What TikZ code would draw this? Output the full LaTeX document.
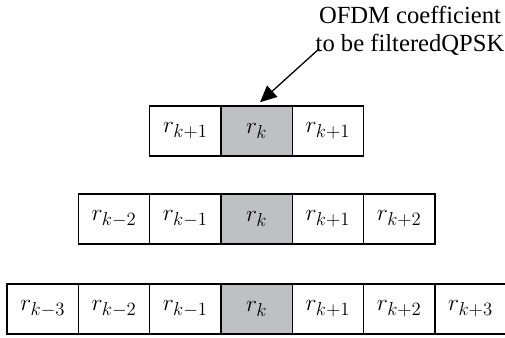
\documentclass[tikz,border=0pt]{standalone}
\usepackage{fix-cm}
\usepackage{amsmath}
\usepackage{fontspec}
\setmainfont{Liberation Serif}
\usetikzlibrary{arrows.meta}
\DeclareMathSizes{20}{20}{16}{12}
\definecolor{cellgray}{RGB}{191,192,196}
\tikzset{
  cell/.style={shape=rectangle,draw=black,line width=1.1pt,minimum width=2.14cm,minimum height=1.5cm,inner sep=0pt,font=\fontsize{20}{24}\selectfont},
  midcell/.style={cell,fill=cellgray},
}
\begin{document}
\begin{tikzpicture}[x=0.03cm,y=-0.03cm]
			\useasboundingbox (0,0) rectangle (505,338);
			% row with three cells
			\node[cell] (a1) at (185.3,131) {$r_{k+1}$};
			\node[midcell] (a2) at (256.6,131) {$r_k$};
			\node[cell] (a3) at (327.9,131) {$r_{k+1}$};
			% row with five cells
			\node[cell] (b1) at (114,219) {$r_{k-2}$};
			\node[cell] (b2) at (185.3,219) {$r_{k-1}$};
			\node[midcell] (b3) at (256.6,219) {$r_k$};
			\node[cell] (b4) at (327.9,219) {$r_{k+1}$};
			\node[cell] (b5) at (399.2,219) {$r_{k+2}$};
			% row with seven cells
			\node[cell] (c1) at (42.7,309) {$r_{k-3}$};
			\node[cell] (c2) at (114,309) {$r_{k-2}$};
			\node[cell] (c3) at (185.3,309) {$r_{k-1}$};
			\node[midcell] (c4) at (256.6,309) {$r_k$};
			\node[cell] (c5) at (327.9,309) {$r_{k+1}$};
			\node[cell] (c6) at (399.2,309) {$r_{k+2}$};
			\node[cell] (c7) at (470.5,309) {$r_{k+3}$};
			
			\node[align=center,inner sep=0pt,font=\fontsize{21}{24}\selectfont] (lbl) at (410,31) {OFDM coefficient\\to be filteredQPSK};
			\path [-{Triangle[length=14pt,width=13pt]},line width=1.1pt,shorten >=4pt] ([xshift=3pt,yshift=6pt]lbl.south west) edge (a2.north);
		\end{tikzpicture}
\end{document}
